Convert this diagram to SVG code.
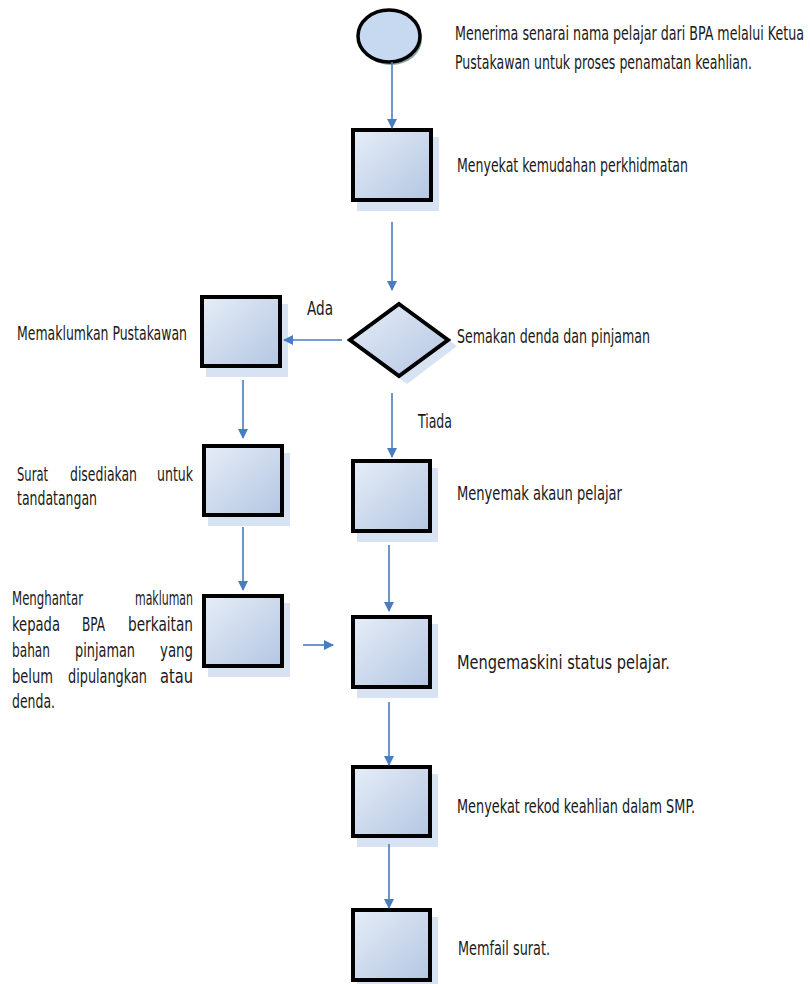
<svg xmlns="http://www.w3.org/2000/svg" width="810" height="984" viewBox="0 0 810 984">
<defs>
<linearGradient id="g" x1="0" y1="0" x2="1" y2="1">
<stop offset="0" stop-color="#e6edf7"/>
<stop offset="1" stop-color="#b3c6e2"/>
</linearGradient>
<marker id="ah" markerWidth="10" markerHeight="10" viewBox="0 0 10 10" refX="9" refY="5" orient="auto" markerUnits="userSpaceOnUse">
<path d="M0,0 L10,5 L0,10 z" fill="#4a7cc0"/>
</marker>
<style>
.box{fill:url(#g);stroke:#000;stroke-width:4}
.sh{fill:#c9d8ee;opacity:0.75}
.t{font-family:"DejaVu Sans Condensed","DejaVu Sans",sans-serif;font-size:20px;fill:#1a1a1a}
.c{stroke:#4a7cc0;stroke-width:1.6;fill:none;marker-end:url(#ah)}
</style>
</defs>
<rect width="810" height="984" fill="#fff"/>

<g id="start">
<ellipse cx="391" cy="39" rx="31" ry="26" fill="#8aa6a8"/>
<ellipse cx="389" cy="36" rx="31" ry="26" fill="#c6d9f1" stroke="#000" stroke-width="3.5"/>
<text class="t" x="455" y="40" textLength="349" lengthAdjust="spacingAndGlyphs">Menerima senarai nama pelajar dari BPA melalui Ketua</text>
<text class="t" x="455" y="69" textLength="297" lengthAdjust="spacingAndGlyphs">Pustakawan untuk proses penamatan keahlian.</text>
</g>

<g id="n1">
<rect class="sh" x="357" y="137" width="82" height="74"/>
<rect class="box" x="353" y="130" width="78" height="70"/>
<text class="t" x="457" y="172" textLength="231" lengthAdjust="spacingAndGlyphs">Menyekat kemudahan perkhidmatan</text>
</g>

<g id="decision">
<polygon class="sh" points="407,310 457,346 407,384 357,346"/>
<polygon points="399,304 448,340 399,376 350,340" fill="url(#g)" stroke="#000" stroke-width="4" stroke-linejoin="miter"/>
<text class="t" x="457" y="343" textLength="193" lengthAdjust="spacingAndGlyphs">Semakan denda dan pinjaman</text>
</g>

<g id="nAda">
<rect class="sh" x="206" y="304" width="82" height="73"/>
<rect class="box" x="202" y="297" width="78" height="69"/>
<text class="t" x="17" y="340" textLength="170" lengthAdjust="spacingAndGlyphs">Memaklumkan Pustakawan</text>
</g>

<g id="nL2">
<rect class="sh" x="208" y="453" width="82" height="73"/>
<rect class="box" x="204" y="446" width="78" height="69"/>
<text class="t" x="17" y="481" textLength="31" lengthAdjust="spacingAndGlyphs">Surat</text>
<text class="t" x="70" y="481" textLength="67" lengthAdjust="spacingAndGlyphs">disediakan</text>
<text class="t" x="157" y="481" textLength="36" lengthAdjust="spacingAndGlyphs">untuk</text>
<text class="t" x="17" y="505" textLength="80" lengthAdjust="spacingAndGlyphs">tandatangan</text>
</g>

<g id="nL3">
<rect class="sh" x="208" y="603" width="82" height="74"/>
<rect class="box" x="204" y="596" width="78" height="70"/>
<text class="t" x="12" y="605" textLength="71" lengthAdjust="spacingAndGlyphs">Menghantar</text>
<text class="t" x="135" y="605" textLength="58" lengthAdjust="spacingAndGlyphs">makluman</text>
<text class="t" x="12" y="631" textLength="48" lengthAdjust="spacingAndGlyphs">kepada</text>
<text class="t" x="82" y="631" textLength="23" lengthAdjust="spacingAndGlyphs">BPA</text>
<text class="t" x="128" y="631" textLength="65" lengthAdjust="spacingAndGlyphs">berkaitan</text>
<text class="t" x="12" y="657" textLength="38" lengthAdjust="spacingAndGlyphs">bahan</text>
<text class="t" x="75" y="657" textLength="60" lengthAdjust="spacingAndGlyphs">pinjaman</text>
<text class="t" x="160" y="657" textLength="33" lengthAdjust="spacingAndGlyphs">yang</text>
<text class="t" x="12" y="683" textLength="41" lengthAdjust="spacingAndGlyphs">belum</text>
<text class="t" x="68" y="683" textLength="79" lengthAdjust="spacingAndGlyphs">dipulangkan</text>
<text class="t" x="160" y="683" textLength="33" lengthAdjust="spacingAndGlyphs">atau</text>
<text class="t" x="12" y="708" textLength="43" lengthAdjust="spacingAndGlyphs">denda.</text>
</g>

<g id="nR2">
<rect class="sh" x="357" y="468" width="81" height="74"/>
<rect class="box" x="353" y="461" width="77" height="70"/>
<text class="t" x="457" y="500" textLength="165" lengthAdjust="spacingAndGlyphs">Menyemak akaun  pelajar</text>
</g>

<g id="nR3">
<rect class="sh" x="357" y="624" width="81" height="74"/>
<rect class="box" x="353" y="617" width="77" height="70"/>
<text class="t" x="457" y="669" textLength="213" lengthAdjust="spacingAndGlyphs">Mengemaskini status pelajar.</text>
</g>

<g id="nR4">
<rect class="sh" x="357" y="774" width="81" height="73"/>
<rect class="box" x="353" y="767" width="77" height="69"/>
<text class="t" x="457" y="813" textLength="238" lengthAdjust="spacingAndGlyphs">Menyekat rekod keahlian dalam SMP.</text>
</g>

<g id="nR5">
<rect class="sh" x="357" y="917" width="81" height="67"/>
<rect class="box" x="353" y="910" width="77" height="70"/>
<text class="t" x="458" y="955" textLength="92" lengthAdjust="spacingAndGlyphs">Memfail surat.</text>
</g>

<g id="labels">
<text class="t" x="307" y="315" textLength="26" lengthAdjust="spacingAndGlyphs">Ada</text>
<text class="t" x="418" y="428" textLength="34" lengthAdjust="spacingAndGlyphs">Tiada</text>
</g>

<g id="connectors">
<line class="c" x1="392" y1="62" x2="392" y2="128"/>
<line class="c" x1="392" y1="222" x2="392" y2="290"/>
<line class="c" x1="342" y1="340" x2="284" y2="340"/>
<line class="c" x1="243" y1="380" x2="243" y2="438"/>
<line class="c" x1="243" y1="527" x2="243" y2="590"/>
<line class="c" x1="303" y1="645" x2="333" y2="645"/>
<line class="c" x1="392" y1="393" x2="392" y2="457"/>
<line class="c" x1="389" y1="545" x2="389" y2="611"/>
<line class="c" x1="389" y1="702" x2="389" y2="765"/>
<line class="c" x1="389" y1="844" x2="389" y2="908"/>
</g>
</svg>
